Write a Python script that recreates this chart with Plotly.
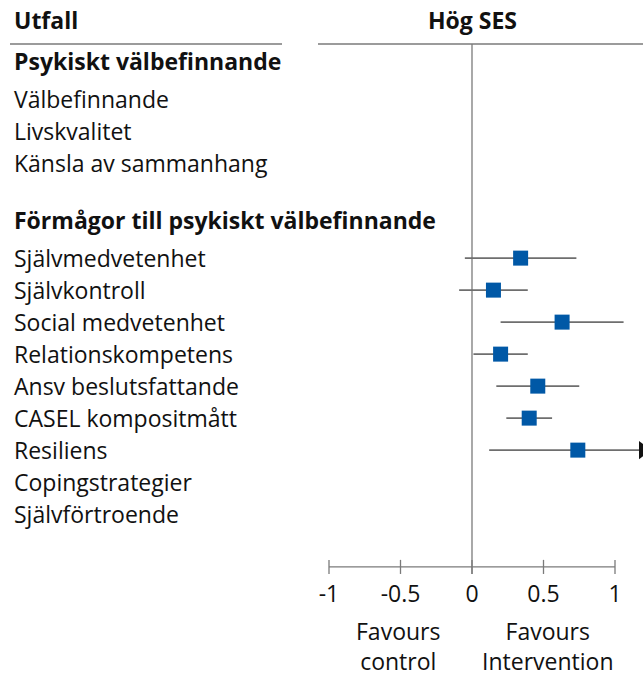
import plotly.graph_objects as go

# ---- data -------------------------------------------------------------
col_left_title = "Utfall"
col_right_title = "Hög SES"

group_titles = ["Psykiskt välbefinnande", "Förmågor till psykiskt välbefinnande"]
group1_outcomes = ["Välbefinnande", "Livskvalitet", "Känsla av sammanhang"]
group2_outcomes = [
    "Självmedvetenhet", "Självkontroll", "Social medvetenhet", "Relationskompetens",
    "Ansv beslutsfattande", "CASEL kompositmått", "Resiliens", "Copingstrategier",
    "Självförtroende",
]
# effekt (SMD) för Hög SES, None = ingen skattning
group1_effect = [None, None, None]
group1_lower = [None, None, None]
group1_upper = [None, None, None]
group2_effect = [0.34, 0.15, 0.63, 0.20, 0.46, 0.40, 0.74, None, None]
group2_lower = [-0.05, -0.09, 0.20, 0.01, 0.17, 0.24, 0.12, None, None]
group2_upper = [0.73, 0.39, 1.06, 0.39, 0.75, 0.56, 1.40, None, None]

tick_vals = [-1, -0.5, 0, 0.5, 1]
tick_text = ["-1", "-0.5", "0", "0.5", "1"]
favours_left = "Favours<br>control"
favours_right = "Favours<br>Intervention"

# ---- layout helpers ---------------------------------------------------
W, H = 643, 677
FONT = "Open Sans"
FS = 23
GREY = "#7a7a7a"
BLUE = "#0058a6"

PX_PER_ROW = 32.0
ROW0_PX = 61.0
X0_PX = 472.0          # pixel of x=0
PX_PER_UNIT = 143.0
PANEL_LEFT_PX = 320.0
PLOT_BOTTOM_PX = 578.0

x_min = (PANEL_LEFT_PX - X0_PX) / PX_PER_UNIT
x_max = (W - X0_PX) / PX_PER_UNIT


def px_to_row(p):
    return (p - ROW0_PX) / PX_PER_ROW


# row positions
rows = []  # (label, bold, y, effect, lo, hi)
y = 0.0
groups = [
    (group_titles[0], group1_outcomes, group1_effect, group1_lower, group1_upper),
    (group_titles[1], group2_outcomes, group2_effect, group2_lower, group2_upper),
]
for gi, (title, outs, eff, lo, hi) in enumerate(groups):
    if gi > 0:
        y += 1.8
    rows.append((title, True, y, None, None, None))
    y += 1.18
    for i, name in enumerate(outs):
        if i > 0:
            y += 1.0
        rows.append((name, False, y, eff[i], lo[i], hi[i]))

axis_y = rows[-1][2] + 1.65
header_line_y = px_to_row(44)

fig = go.Figure()

# zero line
fig.add_trace(go.Scatter(x=[0, 0], y=[header_line_y, axis_y + 0.22], mode="lines",
                         line=dict(color=GREY, width=1.3), hoverinfo="skip", showlegend=False))
# x axis line and ticks
fig.add_trace(go.Scatter(x=[tick_vals[0], tick_vals[-1]], y=[axis_y, axis_y], mode="lines",
                         line=dict(color=GREY, width=1.3), hoverinfo="skip", showlegend=False))
for tv in tick_vals:
    fig.add_trace(go.Scatter(x=[tv, tv], y=[axis_y - 0.22, axis_y + 0.22], mode="lines",
                             line=dict(color=GREY, width=1.3), hoverinfo="skip", showlegend=False))

# konfidensintervall + punktskattningar
for label, bold, ry, e, lo, hi in rows:
    if e is None:
        continue
    hi_draw = min(hi, x_max)
    fig.add_trace(go.Scatter(x=[lo, hi_draw], y=[ry, ry], mode="lines",
                             line=dict(color="#6e6e6e", width=1.6),
                             hoverinfo="skip", showlegend=False))
    if hi > x_max:
        fig.add_trace(go.Scatter(x=[x_max], y=[ry], mode="markers",
                                 marker=dict(symbol="triangle-right", size=16, color="#111111"),
                                 hoverinfo="skip", showlegend=False))
    fig.add_trace(go.Scatter(x=[e], y=[ry], mode="markers",
                             marker=dict(symbol="square", size=15, color=BLUE,
                                         line=dict(width=0)),
                             name=label, showlegend=False))

annotations = []
for label, bold, ry, e, lo, hi in rows:
    annotations.append(dict(
        x=12 / W, xref="paper", y=ry, yref="y", xanchor="left", yanchor="middle",
        text=f"<b>{label}</b>" if bold else label, showarrow=False,
        font=dict(family=FONT, size=FS, color="#111111")))

annotations.append(dict(x=12 / W, xref="paper", y=px_to_row(20), yref="y", xanchor="left",
                        yanchor="middle", text=f"<b>{col_left_title}</b>", showarrow=False,
                        font=dict(family=FONT, size=FS, color="#111111")))
annotations.append(dict(x=0, xref="x", y=px_to_row(20), yref="y", xanchor="center",
                        yanchor="middle", text=f"<b>{col_right_title}</b>", showarrow=False,
                        font=dict(family=FONT, size=FS, color="#111111")))
# paper y is relative to the plot area (0..PLOT_BOTTOM_PX)
fav_y = (PLOT_BOTTOM_PX - 646) / PLOT_BOTTOM_PX
for fx, ft in [(-0.52, favours_left), (0.53, favours_right)]:
    annotations.append(dict(x=fx, xref="x", y=fav_y, yref="paper", xanchor="center",
                            yanchor="middle", text=ft, showarrow=False,
                            font=dict(family=FONT, size=FS, color="#111111")))

shapes = [
    dict(type="line", xref="paper", yref="y", x0=10 / W, x1=282 / W,
         y0=header_line_y, y1=header_line_y, line=dict(color=GREY, width=1.3)),
    dict(type="line", xref="paper", yref="y", x0=318 / W, x1=1,
         y0=header_line_y, y1=header_line_y, line=dict(color=GREY, width=1.3)),
]

fig.update_layout(
    width=W, height=H,
    margin=dict(l=0, r=0, t=0, b=H - PLOT_BOTTOM_PX),
    paper_bgcolor="white", plot_bgcolor="white",
    font=dict(family=FONT, size=FS, color="#111111"),
    annotations=annotations, shapes=shapes,
    xaxis=dict(domain=[PANEL_LEFT_PX / W, 1], range=[x_min, x_max],
               tickvals=tick_vals, ticktext=tick_text, ticks="", showgrid=False,
               zeroline=False, showline=False, tickfont=dict(size=FS)),
    yaxis=dict(range=[px_to_row(PLOT_BOTTOM_PX), px_to_row(0)], visible=False,
               showgrid=False, zeroline=False),
)

fig.write_html("out.html", config={"displayModeBar": False},
               post_script="document.body.style.margin='0';")
